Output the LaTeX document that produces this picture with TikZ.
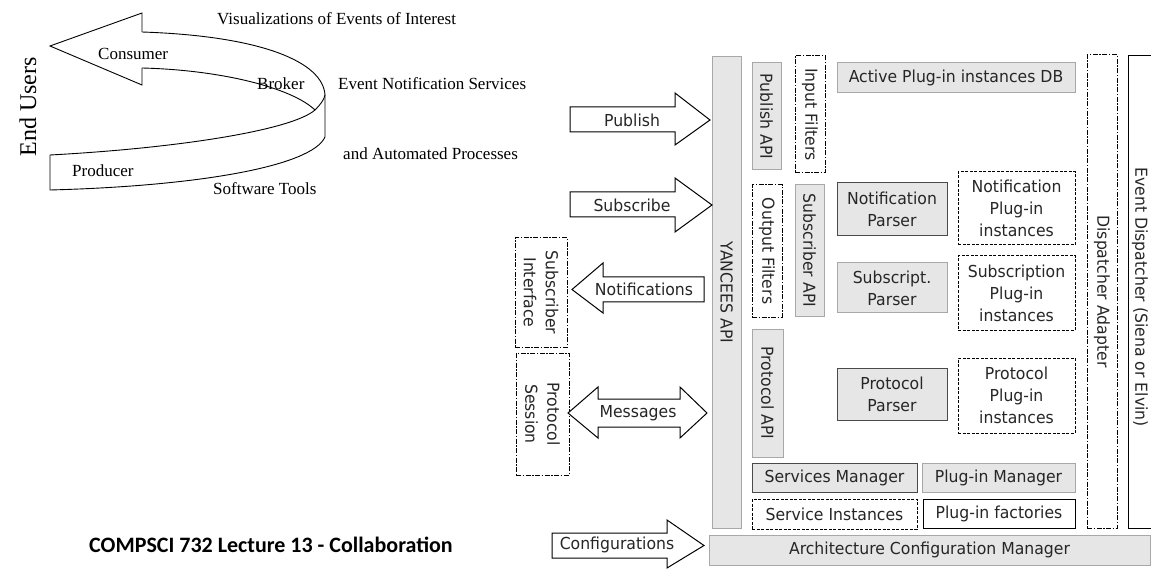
\documentclass[tikz,border=0pt]{standalone}
\usepackage{fontspec}
\setmainfont{Liberation Serif}
\newfontfamily\uifont[FakeStretch=0.95]{DejaVu Sans}
\newfontfamily\capfont{Carlito}
\usetikzlibrary{fit}
\definecolor{boxgray}{HTML}{E6E6E6}
\definecolor{edgegray}{HTML}{A8A8A8}
\definecolor{edgedark}{HTML}{4A4A4A}
\tikzset{
  ui/.style={font=\uifont\fontsize{16.5}{22}\selectfont, text=black!85, align=center, inner sep=0pt},
  serif/.style={font=\fontsize{17}{20}\selectfont, inner sep=0pt},
  boxbase/.style={inner sep=0pt, outer sep=0pt, line width=1pt},
  gbox/.style={boxbase, draw=edgegray, fill=boxgray},
  dbox/.style={boxbase, draw=edgedark, fill=boxgray},
  wbox/.style={boxbase, draw=black, fill=white},
  ddbox/.style={boxbase, draw=black, dash pattern=on 5pt off 1.5pt on 1.5pt off 1.5pt},
  dsbox/.style={boxbase, draw=black, dash pattern=on 3pt off 1.5pt},
  fat/.style={draw=black, fill=white, line width=1pt, line join=miter},
  ribbon/.style={draw=black, line width=0.9pt},
}
% box from corner to corner, with its label
\newcommand\bx[5]{\node[#2, fit={(#3) (#4)}] (#1) {};
  \node[ui] (#1-t) at (#1.center) {#5};}
\newcommand\vbx[5]{\node[#2, fit={(#3) (#4)}] (#1) {};
  \node[ui, rotate=-90] (#1-t) at (#1.center) {#5};}
\begin{document}
\begin{tikzpicture}[x=1pt, y=-1pt]
\useasboundingbox (0,0) rectangle (1151,569);
\fill[white] (0,0) rectangle (1151,569);

% ---------- producer / broker / consumer ribbon ----------
\draw[ribbon, line join=miter] (142,32) -- (142,13) -- (50,46) -- (142,85) -- (142,68);
\draw[ribbon] (142,32) .. controls (262,36) and (323,62) .. (325,95);
\draw[ribbon] (142,68) .. controls (222,70) and (292,88) .. (315,110);
\draw[ribbon] (50,155) .. controls (180,148) and (292,130) .. (315,110)
              .. controls (320,105) and (324,100) .. (325,95);
\draw[ribbon] (325,95) -- (325,137) .. controls (312,166) and (200,186) .. (50,190) -- (50,155);

\node[serif, anchor=west] (vis) at (217,19) {Visualizations of Events of Interest};
\node[serif, anchor=west] (cons) at (98,54) {Consumer};
\node[serif, anchor=west] (brok) at (257,84) {Broker};
\node[serif, anchor=west] (ens) at (338,84) {Event Notification Services};
\node[serif, anchor=west] (auto) at (343,154) {and Automated Processes};
\node[serif, anchor=west] (prod) at (72,171) {Producer};
\node[serif, anchor=west] (soft) at (213,189) {Software Tools};
\node[font=\fontsize{24}{28}\selectfont, rotate=90, inner sep=0pt] (eu) at (28,107) {End Users};

\node[font=\capfont\bfseries\fontsize{22}{26}\selectfont, inner sep=0pt] (title) at (271,545) {COMPSCI 732 Lecture 13 - Collaboration};

% ---------- YANCEES architecture ----------
\vbx{yapi}{gbox}{712,57}{741,528}{YANCEES API}
\vbx{pubapi}{gbox}{752,63}{781,170}{Publish API}
\vbx{infil}{ddbox}{795,56}{825,173}{Input Filters}
\vbx{outfil}{ddbox}{752,185}{782,317}{Output Filters}
\vbx{subapi}{gbox}{795,185}{824,316}{Subscriber API}
\vbx{protapi}{gbox}{752,329}{783,457}{Protocol API}

\bx{db}{gbox}{837,63}{1075,93}{Active Plug-in instances DB}
\bx{nparse}{dbox}{837,183}{947,236}{Notification\\Parser}
\bx{nplug}{dsbox}{958,172}{1075,245}{Notification\\Plug-in\\instances}
\bx{sparse}{gbox}{837,263}{947,313}{Subscript.\\Parser}
\bx{splug}{dsbox}{958,256}{1075,330}{Subscription\\Plug-in\\instances}
\bx{pparse}{dbox}{837,368}{947,420}{Protocol\\Parser}
\bx{pplug}{dsbox}{958,358}{1075,433}{Protocol\\Plug-in\\instances}
\bx{smgr}{dbox}{752,463}{917,492}{Services Manager}
\bx{pmgr}{gbox}{922,463}{1075,492}{Plug-in Manager}
\bx{sinst}{dsbox}{752,499}{917,529}{Service Instances}
\bx{pfact}{wbox}{923,499}{1075,528}{Plug-in factories}
\bx{acm}{gbox}{709,535}{1150,565}{Architecture Configuration Manager}

\vbx{dadapt}{ddbox}{1087,55}{1117,528}{Dispatcher Adapter}
\coordinate (edtop) at (1128,56);
\coordinate (edbot) at (1128,528);
\draw[line width=1pt] (1152,56) -- (edtop) -- (edbot) -- (1152,528);
\node[ui, rotate=-90] (ed-t) at (1140,297) {Event Dispatcher (Siena or Elvin)};

\vbx{subif}{ddbox}{515,238}{567,347}{Subscriber\\Interface}
\vbx{psess}{ddbox}{516,353}{569,475}{Protocol\\Session}

% ---------- block arrows ----------
\draw[fat] (570,107) -- (675,107) -- (675,93) -- (710,120) -- (675,145) -- (675,132) -- (570,132) -- cycle;
\node[ui] (pub) at (632,120) {Publish};
\draw[fat] (570,192) -- (675,192) -- (675,178) -- (712,205) -- (675,232) -- (675,217) -- (570,217) -- cycle;
\node[ui] (sub) at (632,205) {Subscribe};
\draw[fat] (704,277) -- (603,277) -- (603,263) -- (572,289.5) -- (603,313) -- (603,302) -- (704,302) -- cycle;
\node[ui] (notif) at (644,289) {Notifications};
\draw[fat] (598,399) -- (680,399) -- (680,387) -- (707,413) -- (680,438) -- (680,427)
          -- (598,427) -- (598,438) -- (568,413) -- (598,387) -- cycle;
\node[ui] (msg) at (638,413) {Messages};
\draw[fat] (552,533) -- (667,533) -- (667,520) -- (704,545.5) -- (667,568) -- (667,558) -- (552,558) -- cycle;
\node[ui] (conf) at (617,545) {Configurations};
\end{tikzpicture}
\end{document}
